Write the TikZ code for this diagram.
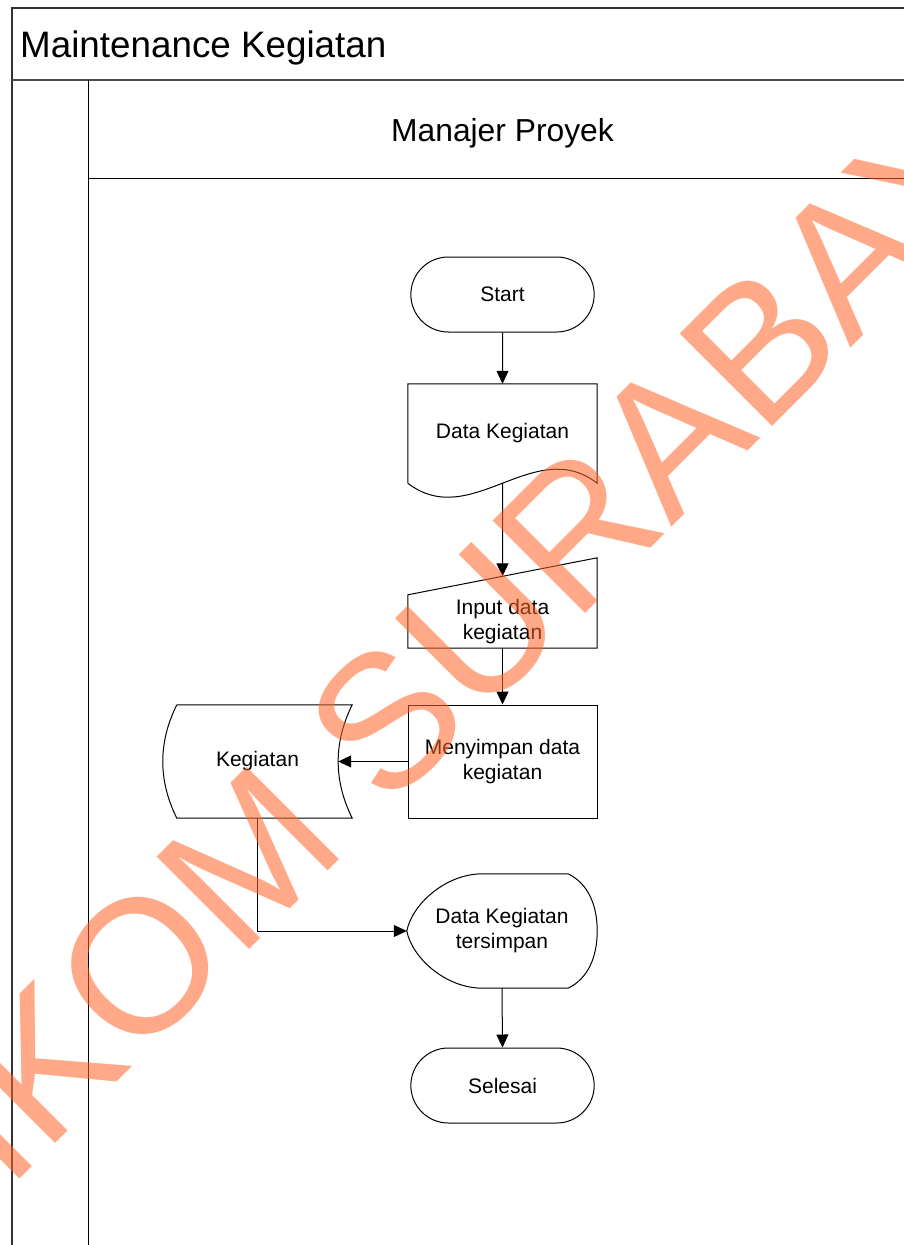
\documentclass[tikz,border=0pt]{standalone}
\usepackage{fontspec}
\setmainfont{Liberation Sans}
\usetikzlibrary{arrows.meta,calc,shapes.misc,positioning}
\definecolor{wmorange}{RGB}{255,100,40}
\tikzstyle{terminal} = [rounded rectangle, draw, line width=1pt, minimum width=190pt, minimum height=75pt, font=\fontsize{21}{25}\selectfont, align=center]
\tikzstyle{blok} = [rectangle, minimum width=189pt, inner sep=0pt, font=\fontsize{21}{25}\selectfont, align=center]
\tikzstyle{garis} = [line width=1pt]
\tikzstyle{arrow} = [line width=1pt, -{Triangle[length=13pt,width=12pt]}]

\begin{document}
\begin{tikzpicture}[x=1pt,y=-1pt]
\useasboundingbox (0,0) rectangle (904,1245);
\fill[white] (0,0) rectangle (904,1245);
% swimlane frame
\draw[line width=1.5pt, black!80] (904,8) -- (12,8) -- (12,1245);
\draw[line width=2.5pt, black!70] (12,80) -- (904,80);
\draw[garis] (88,80) -- (88,1245);
\draw[garis] (88,178) -- (904,178);
\node[anchor=base west, inner sep=0pt, font=\fontsize{36.8}{40}\selectfont] (judul) at (20,57) {Maintenance Kegiatan};
\node[anchor=base, inner sep=0pt, font=\fontsize{31.8}{35}\selectfont] (lane) at (502.5,141) {Manajer Proyek};

% flow nodes
\node[terminal] (start) at (502.5,294.5) {Start};
\node[blok, minimum height=99pt] (dok) at (502.5,433.5) {Data Kegiatan};
\node[blok, minimum height=53pt] (input) at (502.5,621.5) {Input data\\kegiatan};
\node[blok, draw, garis, minimum height=113pt] (proses) at (502.5,761.5) {Menyimpan data\\kegiatan};
\node[blok, minimum height=113pt] (simpan) at (257.5,761.5) {Kegiatan};
\node[blok, minimum width=190pt, minimum height=114pt] (tampil) at (502,931) {Data Kegiatan\\tersimpan};
\node[terminal] (selesai) at (502.5,1085.5) {Selesai};

% document
\draw[garis] (dok.south west) -- (dok.north west) -- (dok.north east) -- (dok.south east)
  .. controls +(-63,-48.5) and +(63,48.5) .. (dok.south west);
% manual input
\coordinate (inputNE) at ($(input.north east)+(0,-37)$);
\draw[garis] (input.north west) -- (input.south west) -- (input.south east) -- (inputNE) -- cycle;
\coordinate (inputin) at ($(input.north west)!0.5!(inputNE)$);
% stored data
\draw[garis] ($(simpan.north west)+(14,0)$) -- (simpan.north east)
  .. controls +(-18.7,37.7) and +(-18.7,-37.7) .. (simpan.south east)
  -- ($(simpan.south west)+(14,0)$)
  .. controls +(-18.7,-37.7) and +(-18.7,37.7) .. ($(simpan.north west)+(14,0)$);
\coordinate (simpanin) at ($(simpan.east)+(-14,0)$);
% display
\draw[garis] ($(tampil.north west)+(76,0)$) -- ($(tampil.north east)+(-29,0)$)
  .. controls +(20,10) and +(0,-26) .. (tampil.east)
  .. controls +(0,26) and +(20,-10) .. ($(tampil.south east)+(-29,0)$)
  -- ($(tampil.south west)+(76,0)$)
  .. controls +(-38,0) and +(5,26) .. (tampil.west)
  .. controls +(5,-26) and +(-38,0) .. ($(tampil.north west)+(76,0)$);

% connectors
\draw[arrow] (start) -- (dok);
\draw[arrow] (dok.south) -- (inputin);
\draw[arrow] (input.south) -- (proses.north);
\draw[arrow] (proses.west) -- (simpanin);
\draw[arrow] (simpan.south) |- (tampil.west);
\draw[arrow] (tampil.south) -- (selesai.north);

% watermark
\begin{scope}
\clip (0,0) rectangle (904,1245);
\node[rotate=45, anchor=base west, inner sep=0pt, text=wmorange, text opacity=0.55, font=\fontsize{190}{200}\selectfont] (wm) at (-164.5,1363.5) {STIKOM SURABAYA};
\end{scope}
\end{tikzpicture}
\end{document}
